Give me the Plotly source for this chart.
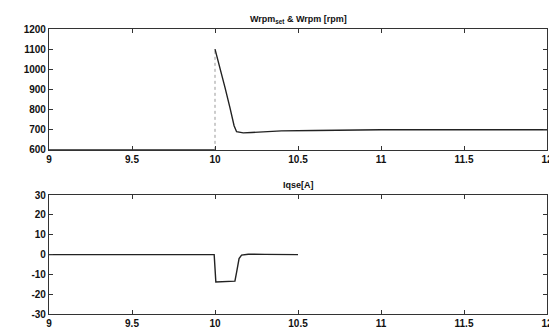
import plotly.graph_objects as go

# Top: Wrpm_set & Wrpm [rpm]
t_before = [9.0, 10.0]
w_before = [600, 600]
t_speed = [10.0, 10.03, 10.06, 10.09, 10.115, 10.13, 10.17, 10.22, 10.3, 10.4, 10.6, 11.0, 11.5, 12.0]
w_speed = [1100, 1010, 910, 810, 720, 690, 684, 686, 690, 694, 696, 700, 700, 700]

# Bottom: Iqse [A]
t_iq = [9.0, 9.995, 10.005, 10.05, 10.12, 10.13, 10.145, 10.16, 10.2, 10.3, 10.5]
iq = [0, 0, -13.8, -13.7, -13.4, -9, -2, -0.3, 0.2, 0.1, 0]

x_ticks = [9, 9.5, 10, 10.5, 11, 11.5, 12]
x_labels = ["9", "9.5", "10", "10.5", "11", "11.5", "12"]
y1_ticks = [600, 700, 800, 900, 1000, 1100, 1200]
y1_labels = ["600", "700", "800", "900", "1000", "1100", "1200"]
y2_ticks = [-30, -20, -10, 0, 10, 20, 30]
y2_labels = ["-30", "-20", "-10", "0", "10", "20", "30"]

fig = go.Figure()
fig.add_trace(go.Scatter(x=t_before, y=w_before, mode="lines",
                         line=dict(color="#222", width=1.5), xaxis="x", yaxis="y", showlegend=False))
fig.add_trace(go.Scatter(x=[t_before[-1], t_speed[0]], y=[w_before[-1], w_speed[0]], mode="lines",
                         line=dict(color="#999", width=1, dash="dot"), xaxis="x", yaxis="y", showlegend=False))
fig.add_trace(go.Scatter(x=t_speed, y=w_speed, mode="lines",
                         line=dict(color="#222", width=1.4), xaxis="x", yaxis="y", showlegend=False))
fig.add_trace(go.Scatter(x=t_iq, y=iq, mode="lines",
                         line=dict(color="#222", width=1.4), xaxis="x2", yaxis="y2", showlegend=False))

font = dict(family="Liberation Sans, Arial", size=10, color="#111", weight="bold")
axcommon = dict(showgrid=False, zeroline=False, showline=True, linecolor="#333", linewidth=1.2,
                mirror="ticks", ticks="inside", ticklen=4, tickcolor="#333", tickfont=font)

fig.update_layout(
    width=557, height=333,
    margin=dict(l=41, r=12, t=21, b=17),
    paper_bgcolor="white", plot_bgcolor="white",
    xaxis=dict(domain=[0, 1], range=[9, 12], tickvals=x_ticks, ticktext=x_labels, anchor="y", **axcommon),
    yaxis=dict(domain=[0.576, 1], range=[600, 1200], tickvals=y1_ticks, ticktext=y1_labels, anchor="x", **axcommon),
    xaxis2=dict(domain=[0, 1], range=[9, 12], tickvals=x_ticks, ticktext=x_labels, anchor="y2", **axcommon),
    yaxis2=dict(domain=[0, 0.417], range=[-30, 30], tickvals=y2_ticks, ticktext=y2_labels, anchor="x2", **axcommon),
    annotations=[
        dict(text="<b>Wrpm<sub>set</sub> & Wrpm [rpm]</b>", xref="paper", yref="paper", x=0.5, y=1.0,
             yshift=2, xanchor="center", yanchor="bottom", showarrow=False,
             font=dict(family="Liberation Sans, Arial", size=9, color="#111")),
        dict(text="<b>Iqse[A]</b>", xref="paper", yref="paper", x=0.5, y=0.417,
             yshift=3, xanchor="center", yanchor="bottom", showarrow=False,
             font=dict(family="Liberation Sans, Arial", size=9, color="#111")),
    ],
)

fig.write_html("out.html")
